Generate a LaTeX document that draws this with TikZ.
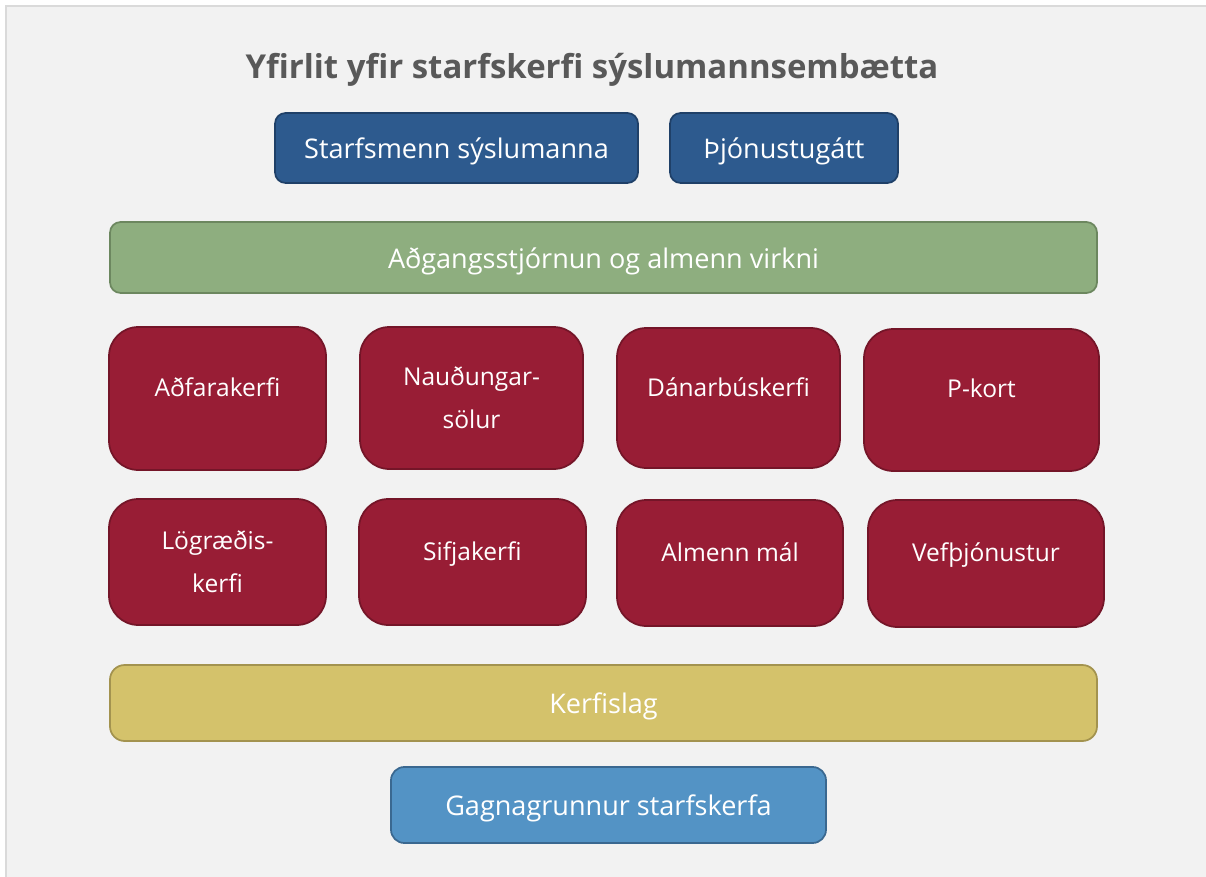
\documentclass[tikz,border=0pt]{standalone}
\usepackage{fontspec}
\setmainfont{Open Sans}
\usetikzlibrary{calc}
\definecolor{pagegray}{HTML}{F2F2F2}
\definecolor{framegray}{HTML}{DADADA}
\definecolor{titlegray}{HTML}{595959}
\definecolor{navyfill}{HTML}{2D5A8E}
\definecolor{navyline}{HTML}{1F4068}
\definecolor{sagefill}{HTML}{8EAE7F}
\definecolor{sageline}{HTML}{6C875F}
\definecolor{wine}{HTML}{981D35}
\definecolor{wineline}{HTML}{741528}
\definecolor{mustard}{HTML}{D4C26B}
\definecolor{mustardline}{HTML}{A3934F}
\definecolor{skyfill}{HTML}{5393C5}
\definecolor{skyline}{HTML}{3A6890}
\def\u{0.75pt}
\tikzset{
	layerbox/.style={draw, line width=1.3pt, text=white, font=\fontsize{20.3}{27}\selectfont},
	flatrow/.style={text height=17pt, text depth=1pt},
	userbox/.style={layerbox, flatrow, fill=navyfill, draw=navyline, rounded corners=8pt, minimum height=70*\u},
	accessbox/.style={layerbox, flatrow, fill=sagefill, draw=sageline, rounded corners=8pt},
	modbox/.style={layerbox, fill=wine, draw=wineline, rounded corners=22pt, align=center,
		font=\fontsize{18.4}{32}\selectfont},
	onerow/.style={text depth=17pt},
	sysbox/.style={layerbox, flatrow, fill=mustard, draw=mustardline, rounded corners=11pt},
	dbbox/.style={layerbox, flatrow, fill=skyfill, draw=skyline, rounded corners=10pt},
}
\begin{document}
\begin{tikzpicture}[x=0.75pt, y=-0.75pt]
			%%%%% START %%%%%
			
			\useasboundingbox (0, 0) rectangle (1206, 877);
			\fill[white] (0, 0) rectangle (1206, 877);
			\fill[pagegray] (6, 6) rectangle (1206, 877);
			\draw[line width=2.2pt, color=framegray] (6, 877) -- (6, 6) -- (1206, 6);
			
			\node[font=\bfseries\fontsize{24.7}{30}\selectfont, text=titlegray, text height=19pt, text depth=1pt] (title) at (592, 67) {Yfirlit yfir starfskerfi sýslumannsembætta};
			
			\node[userbox, minimum width=363*\u] (starfsmenn) at (456.5, 148) {Starfsmenn sýslumanna};
			\node[userbox, minimum width=228*\u] (gatt) at (784, 148) {Þjónustugátt};
			
			\node[accessbox, minimum width=987*\u, minimum height=71*\u] (adgangur) at (603.5, 257.5) {Aðgangsstjórnun og almenn virkni};
			
			\node[modbox, onerow, minimum width=217*\u, minimum height=143*\u] (adfarir) at (217.5, 398.5) {Aðfarakerfi};
			\node[modbox, minimum width=223*\u, minimum height=142*\u] (naudungar) at (471.5, 398) {Nauðungar-\\sölur};
			\node[modbox, onerow, minimum width=223*\u, minimum height=140*\u] (danarbu) at (728.5, 398) {Dánarbúskerfi};
			\node[modbox, onerow, minimum width=235*\u, minimum height=142*\u] (pkort) at (981.5, 400) {P-kort};
			
			\node[modbox, minimum width=217*\u, minimum height=126*\u] (lograedi) at (217.5, 562) {Lögræðis-\\kerfi};
			\node[modbox, onerow, minimum width=227*\u, minimum height=126*\u] (sifjar) at (472.5, 562) {Sifjakerfi};
			\node[modbox, onerow, minimum width=226*\u, minimum height=126*\u] (almenn) at (730, 563) {Almenn mál};
			\node[modbox, onerow, minimum width=236*\u, minimum height=127*\u] (vefur) at (986, 563.5) {Vefþjónustur};
			
			\node[sysbox, minimum width=987*\u, minimum height=76*\u] (kerfislag) at (603.5, 703) {Kerfislag};
			
			\node[dbbox, minimum width=435*\u, minimum height=76*\u] (gagnagrunnur) at (608.5, 805) {Gagnagrunnur starfskerfa};
			
			%%%%% END %%%%%
\end{tikzpicture}
\end{document}
